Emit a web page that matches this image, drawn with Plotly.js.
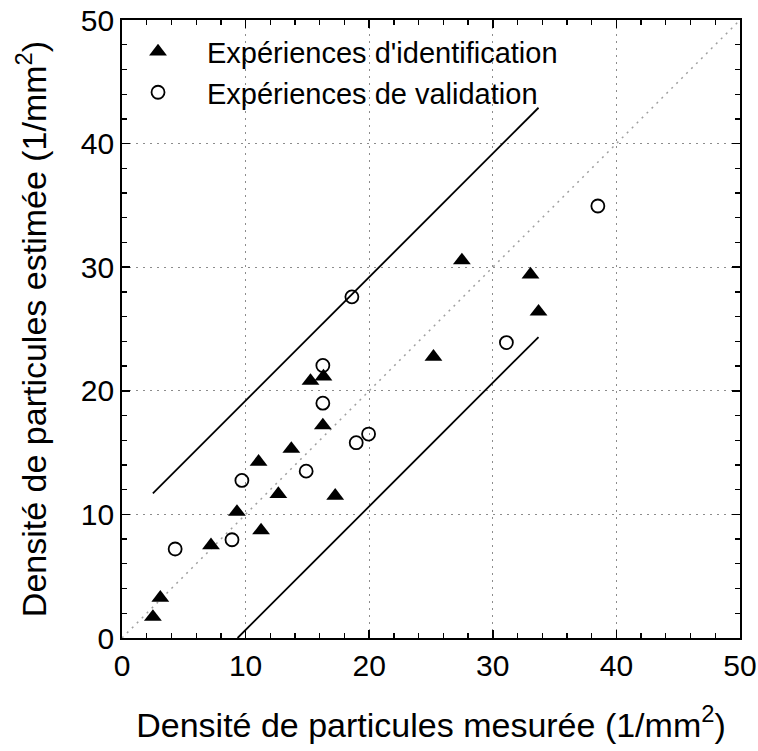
<!DOCTYPE html>
<html>
<head>
<meta charset="utf-8">
<script src="https://cdn.plot.ly/plotly-3.0.1.min.js"></script>
<style>html,body{margin:0;padding:0;background:#fff;}</style>
</head>
<body>
<div id="chart" style="width:758px;height:751px;"></div>
<script>
// Expériences d'identification (filled triangles)
const identX = [2.5, 3.1, 7.2, 9.3, 11.25, 11.05, 12.65, 13.7, 15.25, 16.3, 16.25, 17.25, 25.2, 27.5, 33.05, 33.7];
const identY = [1.7, 3.25, 7.5, 10.2, 8.7, 14.25, 11.65, 15.3, 20.8, 21.15, 17.2, 11.5, 22.75, 30.55, 29.4, 26.4];
// Expériences de validation (open circles)
const validX = [4.3, 8.9, 9.7, 14.9, 18.95, 19.95, 16.25, 16.25, 18.6, 31.1, 38.5];
const validY = [7.2, 7.95, 12.75, 13.5, 15.8, 16.5, 19.0, 22.05, 27.6, 23.9, 34.95];
// Reference lines
const diagX = [0, 50], diagY = [0, 50];
const upperX = [2.5, 33.7], upperY = [11.7, 42.9];
const lowerX = [9.35, 33.7], lowerY = [0, 24.35];
const tickVals = [0, 10, 20, 30, 40, 50];

const font = "Liberation Sans, Arial, sans-serif";
const dotDash = "2px,5px";

const traces = [
  {x: diagX, y: diagY, mode: 'lines', line: {color: '#a0a0a0', width: 1.5, dash: dotDash}, showlegend: false, hoverinfo: 'skip'},
  {x: upperX, y: upperY, mode: 'lines', line: {color: '#000', width: 1.8}, showlegend: false},
  {x: lowerX, y: lowerY, mode: 'lines', line: {color: '#000', width: 1.8}, showlegend: false},
  {x: identX, y: identY, mode: 'markers', name: "Expériences d'identification",
   marker: {symbol: 'triangle-up', size: 15.5, color: '#000', line: {width: 0}}},
  {x: validX, y: validY, mode: 'markers', name: "Expériences de validation",
   marker: {symbol: 'circle-open', size: 13, color: '#000', line: {width: 1.8, color: '#000'}}}
];

const axisCommon = {
  range: [0, 50], tickvals: tickVals, ticktext: tickVals.map(String),
  ticks: 'inside', ticklen: 8, tickwidth: 1.5, tickcolor: '#000',
  showline: true, linewidth: 1.8, linecolor: '#000', mirror: 'allticks',
  showgrid: true, gridcolor: '#8c8c8c', gridwidth: 1.3, griddash: dotDash,
  zeroline: false, fixedrange: true,
  tickfont: {family: font, size: 30, color: '#000'},
  minor: {dtick: 2, tick0: 0, ticks: 'inside', ticklen: 5, tickwidth: 1.3, tickcolor: '#000', showgrid: false}
};

const layout = {
  width: 758, height: 751,
  margin: {l: 122, r: 18, t: 20, b: 113},
  paper_bgcolor: '#fff', plot_bgcolor: '#fff',
  font: {family: font, color: '#000'},
  xaxis: Object.assign({}, axisCommon, {
    title: {text: 'Densité de particules mesurée (1/mm<sup>2</sup>)', font: {family: font, size: 34, color: '#000'}, standoff: 32}
  }),
  yaxis: Object.assign({}, axisCommon, {
    title: {text: 'Densité de particules estimée (1/mm<sup>2</sup>)', font: {family: font, size: 34, color: '#000'}, standoff: 24}
  }),
  legend: {
    x: -0.021, xanchor: 'left', y: 0.99, yanchor: 'top',
    bgcolor: 'rgba(0,0,0,0)', borderwidth: 0,
    font: {family: font, size: 29, color: '#000'},
    itemwidth: 88, tracegroupgap: 0
  },
  showlegend: true
};

Plotly.newPlot('chart', traces, layout, {staticPlot: true, displayModeBar: false});
</script>
</body>
</html>
